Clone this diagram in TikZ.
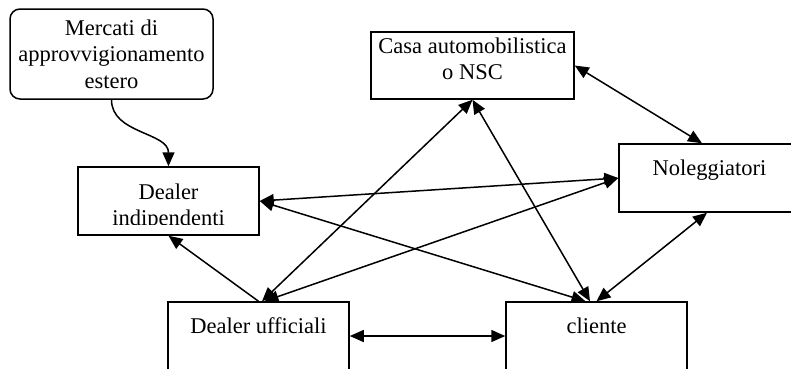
\documentclass[tikz,border=0pt]{standalone}
\usepackage{fontspec}
\setmainfont{Liberation Serif}
\usetikzlibrary{positioning,arrows.meta}
\begin{document}
\begin{tikzpicture}[x=1pt,y=-1pt,
  box/.style={draw, rectangle, line width=1.5pt, inner sep=0pt, minimum width=181pt, minimum height=68pt},
  txt/.style={inner sep=0pt, align=center, font=\fontsize{22.5}{26.5}\selectfont},
  link/.style={line width=1.5pt, {Triangle[length=14pt,width=12pt]}-{Triangle[length=14pt,width=12pt]}},
  onelink/.style={line width=1.5pt, -{Triangle[length=14pt,width=12pt]}}]
\clip (0,0) rectangle (791,368);
\node (merc) [box, txt, rounded corners=10pt, minimum width=203pt, minimum height=90pt] at (111.5,54) {Mercati di\\approvvigionamento\\estero};
\node (casa) [box, minimum width=203pt, minimum height=67pt] at (472.5,65.5) {};
\node (indip) [box] at (168.5,201) {};
\node (nol) [box] at (709.5,178) {};
\node (uff) [box, minimum height=78pt] at (258.5,341) {};
\node (cli) [box, minimum height=78pt] at (596.5,341) {};

\node (casatxt) [txt, above of=casa, node distance=6.9pt] {Casa automobilistica\\o NSC};
\node (noltxt) [txt, above of=nol, node distance=3pt, anchor=base] {Noleggiatori};
\node (ufftxt) [txt, above of=uff, node distance=8pt, anchor=base] {Dealer ufficiali};
\node (clitxt) [txt, above of=cli, node distance=8pt, anchor=base] {cliente};
\begin{scope}
\clip (78,167) rectangle (259,224.5);
\node (indiptxt) [txt, below of=indip, node distance=6pt] {Dealer\\indipendenti};
\end{scope}

\draw [onelink] (merc.south) to[out=-90,in=90] (indip.north);
\draw [link] (indip.east) -- (nol.west);
\draw [link] (indip.east) -- ([xshift=-11pt]cli.north);
\draw [link] (casa.south) -- ([xshift=3.5pt]uff.north);
\draw [link] (casa.south) -- ([xshift=-6.5pt]cli.north);
\draw [link] (casa.east) -- ([xshift=-7.5pt]nol.north);
\draw [link] ([xshift=-2.5pt]nol.south) -- (cli.north);
\draw [onelink] (uff.north) -- (indip.south);
\draw [link] ([xshift=6pt]uff.north) -- (nol.west);
\draw [link] ([yshift=5pt]uff.east) -- ([yshift=5pt]cli.west);
\end{tikzpicture}
\end{document}
